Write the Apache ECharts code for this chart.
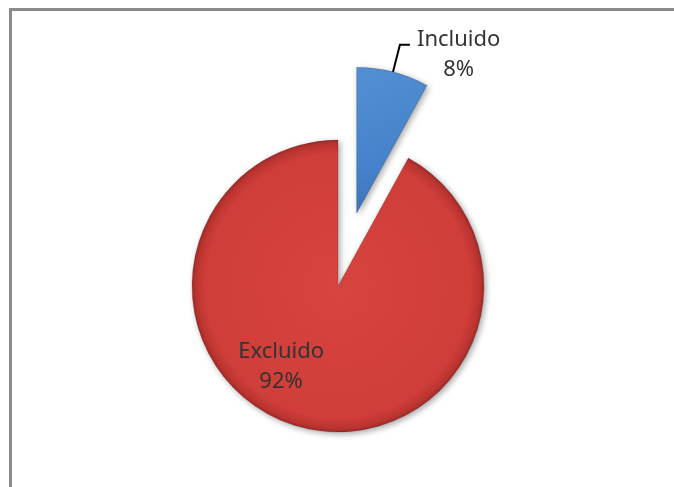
<!DOCTYPE html>
<html>
<head>
<meta charset="utf-8">
<script src="https://cdn.jsdelivr.net/npm/echarts@6/dist/echarts.min.js"></script>
<style>
  html, body { margin: 0; padding: 0; background: #fff; }
  #chart { width: 674px; height: 487px; }
</style>
</head>
<body>
<div id="chart"></div>
<script>
// Share of cases included vs excluded (percent)
const categories = ['Incluido', 'Excluido'];
const shares = [8, 92];
const exploded = [true, false];

const fills = [
  {
    type: 'linear', x: 0, y: 0, x2: 1, y2: 1,
    colorStops: [
      { offset: 0, color: '#5590d4' },
      { offset: 0.6, color: '#4582cb' },
      { offset: 1, color: '#3469ad' }
    ]
  },
  {
    type: 'radial', x: 0.5, y: 0.5, r: 0.5,
    colorStops: [
      { offset: 0, color: '#d8443f' },
      { offset: 0.9, color: '#d03e3a' },
      { offset: 0.97, color: '#bb3430' },
      { offset: 1, color: '#9c2a27' }
    ]
  }
];

const labelFont = '"Noto Sans", "Open Sans", sans-serif';
const labelRich = { t: { fontFamily: labelFont, fontSize: 22, lineHeight: 30, color: '#333333', align: 'center' } };

const chart = echarts.init(document.getElementById('chart'), null, { renderer: 'canvas' });

chart.setOption({
  animation: false,
  backgroundColor: '#ffffff',
  graphic: [{
    type: 'rect',
    shape: { x: 10.5, y: 9.5, width: 700, height: 520 },
    style: { fill: 'none', stroke: '#8a8a8a', lineWidth: 3 },
    silent: true
  }],
  series: [{
    type: 'pie',
    center: [338, 286],
    radius: [0, 146],
    startAngle: 90,
    clockwise: true,
    selectedMode: 'multiple',
    selectedOffset: 75,
    avoidLabelOverlap: false,
    itemStyle: {
      borderColor: 'rgba(0,0,0,0.15)',
      borderWidth: 1,
      shadowBlur: 6,
      shadowColor: 'rgba(0,0,0,0.35)',
      shadowOffsetX: 2,
      shadowOffsetY: 2
    },
    emphasis: { disabled: true },
    data: categories.map((name, i) => ({
      name: name,
      value: shares[i],
      selected: exploded[i],
      itemStyle: { color: fills[i] },
      label: i === 0 ? {
        position: 'outside',
        formatter: '{t|{b}}\n{t|{d}%}',
        padding: [20, 0, 0, 2],
        rich: labelRich
      } : {
        position: 'inside',
        offset: [-38, 7],
        formatter: '{t|{b}}\n{t|{d}%}',
        rich: labelRich
      },
      labelLine: i === 0 ? {
        show: true,
        length: 28,
        length2: 10,
        lineStyle: { color: '#000', width: 2 }
      } : { show: false }
    }))
  }]
});
</script>
</body>
</html>
